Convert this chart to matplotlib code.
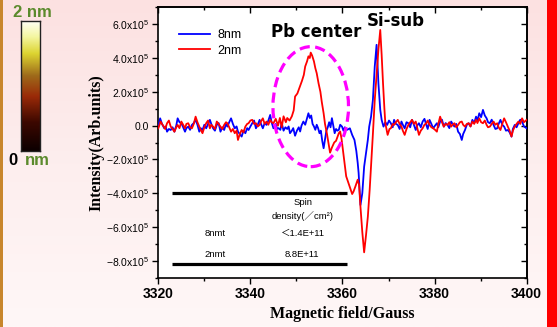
import numpy as np
import matplotlib
matplotlib.use('Agg')
import matplotlib.pyplot as plt
from matplotlib.colors import LinearSegmentedColormap
from matplotlib.patches import Ellipse, Rectangle
from matplotlib.lines import Line2D
from matplotlib.ticker import MultipleLocator, FuncFormatter, NullFormatter

plt.rcParams['mathtext.fontset'] = 'custom'
plt.rcParams['mathtext.rm'] = 'Liberation Sans'
plt.rcParams['mathtext.it'] = 'Liberation Sans'
plt.rcParams['mathtext.bf'] = 'Liberation Sans:bold'

# ---------------- data (field in Gauss, intensity in units of 1e5) ----------------
FIELD_8NM = [
    3320.0, 3320.4, 3320.8, 3321.3, 3321.6, 3321.9, 3322.3, 3322.7, 3323.1, 3323.5,
    3323.9, 3324.2, 3324.6, 3325.0, 3325.4, 3325.8, 3326.1, 3326.5, 3326.9, 3327.3,
    3327.7, 3328.1, 3328.5, 3328.9, 3329.2, 3329.6, 3330.0, 3330.4, 3330.8, 3331.2,
    3331.5, 3331.9, 3332.3, 3332.7, 3333.1, 3333.5, 3333.9, 3334.3, 3334.7, 3335.0,
    3335.4, 3335.8, 3336.2, 3336.6, 3337.0, 3337.3, 3337.7, 3338.1, 3338.5, 3338.9,
    3339.3, 3339.6, 3340.0, 3340.4, 3340.8, 3341.2, 3341.6, 3342.0, 3342.3, 3342.7,
    3343.1, 3343.5, 3343.9, 3344.3, 3344.6, 3345.0,
    3345.5, 3345.8, 3346.1, 3346.5, 3346.8, 3347.2, 3347.6, 3348.0, 3348.3, 3348.6,
    3349.0, 3349.3, 3349.7, 3350.1, 3350.5, 3350.8, 3351.1, 3351.5, 3351.9, 3352.2,
    3352.6, 3352.9, 3353.2, 3353.5, 3353.8, 3354.1, 3354.4, 3354.7, 3355.0, 3355.3,
    3355.6, 3355.9, 3356.2, 3356.5, 3356.8, 3357.1, 3357.4, 3357.7, 3358.0, 3358.3,
    3358.6, 3358.9, 3359.2, 3359.5, 3359.9, 3360.2, 3360.5, 3361.0, 3361.6, 3362.1,
    3362.6, 3363.0, 3363.3, 3363.5, 3363.9, 3364.3, 3364.7, 3365.1, 3365.5, 3365.8,
    3366.2, 3366.6, 3367.0, 3367.4, 3367.8, 3368.2, 3368.5, 3368.9, 3369.3, 3369.7,
    3370.1, 3370.5, 3370.9, 3371.2, 3371.6, 3372.0, 3372.4, 3372.8, 3373.1, 3373.5,
    3373.9, 3374.3, 3374.7, 3375.1, 3375.5, 3375.9, 3376.2, 3376.6, 3377.0, 3377.4,
    3377.8, 3378.2, 3378.5, 3378.9, 3379.3, 3379.7, 3380.1, 3380.5, 3380.8, 3381.2,
    3381.6, 3382.0, 3382.4, 3382.8, 3383.2, 3383.6, 3383.9, 3384.3, 3384.7, 3385.1,
    3385.5, 3385.9, 3386.2, 3386.6, 3387.0, 3387.4, 3387.8, 3388.2, 3388.6, 3389.0,
    3389.3, 3389.7, 3390.1, 3390.5, 3390.9, 3391.3, 3391.6, 3392.0, 3392.4, 3392.8,
    3393.2, 3393.6, 3393.9, 3394.3, 3394.7, 3395.1, 3395.5, 3395.9, 3396.3, 3396.7,
    3397.0, 3397.4, 3397.8, 3398.2, 3398.6, 3399.0, 3399.4, 3400.0,
]
INT_8NM = [
    -0.06, 0.43, 0.10, -0.16, -0.05, -0.36, -0.20, -0.26, -0.10, -0.36,
    0.00, 0.43, 0.20, 0.14, -0.10, -0.36, -0.15, -0.06, -0.25, 0.04,
    0.15, 0.34, 0.05, -0.36, -0.15, -0.26, 0.05, -0.16, 0.10, 0.34,
    0.10, -0.16, -0.30, 0.04, 0.15, -0.36, -0.10, -0.26, 0.10, -0.06,
    0.20, 0.43, 0.10, -0.16, -0.05, -0.36, -0.50, -0.65, -0.30, -0.45,
    -0.15, -0.26, -0.05, 0.14, 0.30, -0.16, 0.05, 0.34, 0.10, -0.16,
    0.15, 0.04, 0.30, 0.63, 0.20, -0.16,
    0.10, -0.20, -0.15, -0.25, 0.15, -0.30, -0.10, -0.20, -0.05, -0.45,
    -0.30, -0.15, -0.60, -0.30, -0.10, -0.35, 0.00, 0.24, 0.05, 0.35,
    0.73, 0.45, 0.60, 0.10, -0.05, -0.25, 0.05, -0.15, -0.45, -0.30,
    -0.90, -1.34, -0.80, -0.30, -0.10, 0.20, -0.10, 0.44, 0.00, -0.45,
    -0.20, -0.30, -0.25, 0.05, -0.06, -0.30, -0.10, -0.25, -0.16, -0.55,
    -0.85, -1.50, -2.20, -2.80, -4.70, -4.00, -2.43, -1.64, -0.85, -0.06,
    0.53, 1.52, 3.49, 4.78, 2.50, 0.93, 0.34, -0.06, 0.20, 0.04,
    0.30, 0.14, -0.10, 0.34, 0.10, 0.04, -0.20, 0.24, 0.05, -0.16,
    0.20, 0.14, -0.10, 0.34, 0.05, -0.26, 0.00, 0.14, -0.10, 0.24,
    0.40, 0.04, -0.20, 0.34, 0.10, -0.16, 0.00, 0.14, -0.10, 0.24,
    0.35, -0.06, 0.15, 0.04, -0.15, 0.24, 0.10, -0.06, 0.10, -0.36,
    -0.50, -0.85, -0.50, -0.26, 0.05, 0.14, -0.05, 0.34, 0.15, 0.53,
    0.30, 0.73, 0.50, 0.93, 0.60, 0.43, 0.20, 0.14, 0.35, 0.04,
    -0.20, -0.16, 0.10, 0.34, 0.05, -0.06, -0.30, -0.26, -0.40, -0.65,
    -0.20, 0.04, -0.10, 0.14, 0.35, 0.24, -0.05, -0.16,
]

FIELD_2NM = [
    3320.0, 3320.5, 3320.8, 3321.2, 3321.5, 3321.9, 3322.3, 3322.7, 3323.1, 3323.5,
    3323.9, 3324.2, 3324.6, 3325.0, 3325.4, 3325.8, 3326.1, 3326.5, 3326.9, 3327.3,
    3327.7, 3328.1, 3328.5, 3328.9, 3329.2, 3329.6, 3330.0, 3330.4, 3330.8, 3331.2,
    3331.5, 3331.9, 3332.3, 3332.7, 3333.1, 3333.5, 3333.9, 3334.3, 3334.7, 3335.0,
    3335.4, 3335.8, 3336.2, 3336.6, 3337.0, 3337.3, 3337.7, 3338.1, 3338.5, 3338.9,
    3339.3, 3339.6, 3340.0, 3340.4, 3340.8, 3341.2, 3341.6, 3342.0, 3342.3, 3342.7,
    3343.1, 3343.5, 3343.9, 3344.3, 3344.6, 3345.0,
    3345.5, 3346.0, 3346.4, 3346.8, 3347.2, 3347.7, 3348.0, 3348.5, 3349.0, 3349.4,
    3349.7, 3350.2, 3350.6, 3351.2, 3351.6, 3351.9, 3352.3, 3352.6, 3352.9, 3353.1,
    3353.4, 3353.8, 3354.1, 3354.4, 3354.8, 3355.2, 3355.5, 3355.9, 3356.2, 3356.6,
    3357.0, 3357.3, 3357.7, 3358.2, 3358.6, 3359.2, 3359.5, 3359.8, 3360.2, 3360.8,
    3361.3, 3361.7, 3362.1, 3362.4, 3362.8, 3363.3, 3363.6, 3363.9, 3364.3, 3364.7,
    3365.1, 3365.5, 3365.9, 3366.2, 3366.6, 3367.0, 3367.4, 3367.8, 3368.2, 3368.5,
    3368.8, 3369.1, 3369.3, 3369.8, 3370.2,
    3370.5, 3370.9, 3371.2, 3371.6, 3372.0, 3372.4, 3372.8, 3373.1, 3373.5, 3373.9,
    3374.3, 3374.7, 3375.1, 3375.5, 3375.9, 3376.2, 3376.6, 3377.0, 3377.4, 3377.8,
    3378.2, 3378.5, 3378.9, 3379.3, 3379.7, 3380.1, 3380.5, 3380.8, 3381.2, 3381.6,
    3382.0, 3382.4, 3382.8, 3383.2, 3383.6, 3383.9, 3384.3, 3384.7, 3385.1, 3385.5,
    3385.9, 3386.2, 3386.6, 3387.0, 3387.4, 3387.8, 3388.2, 3388.6, 3389.0, 3389.3,
    3389.7, 3390.1, 3390.5, 3390.9, 3391.3, 3391.6, 3392.0, 3392.4, 3392.8, 3393.2,
    3393.6, 3393.9, 3394.3, 3394.7, 3395.1, 3395.5, 3395.9, 3396.3, 3396.7, 3397.0,
    3397.4, 3397.8, 3398.2, 3398.6, 3399.0, 3399.4, 3400.0,
]
INT_2NM = [
    -0.16, 0.24, 0.10, -0.06, -0.20, 0.14, 0.30, -0.06, -0.20, -0.36,
    -0.10, 0.04, -0.15, 0.24, 0.05, -0.16, 0.10, 0.14, -0.10, -0.16,
    0.10, 0.53, 0.20, -0.06, -0.25, -0.45, -0.10, 0.14, 0.30, -0.16,
    0.05, -0.06, -0.20, 0.24, 0.10, -0.06, -0.20, 0.04, 0.20, 0.14,
    -0.10, -0.36, -0.20, -0.45, -0.30, -0.85, -0.50, -0.26, -0.40, -0.06,
    0.10, 0.14, 0.30, 0.34, 0.10, 0.14, -0.05, 0.04, 0.25, 0.43,
    0.10, 0.24, 0.05, 0.34, 0.20, 0.14,
    0.40, 0.00, 0.45, -0.10, 0.55, 0.20, 0.45, 0.30, 0.55, 0.90,
    1.72, 1.90, 2.20, 2.65, 3.00, 3.50, 3.80, 4.10, 4.00, 4.32,
    4.15, 3.80, 3.40, 3.10, 2.50, 2.00, 1.40, 0.73, 0.10, -0.45,
    -1.10, -1.60, -1.30, -1.00, -0.90, -0.45, -0.35, -0.80, -1.70, -3.00,
    -3.40, -3.70, -4.05, -3.90, -3.60, -3.20, -3.50, -4.80, -6.30, -7.50,
    -6.50, -5.40, -3.80, -2.40, -0.50, 1.50, 3.00, 4.50, 5.66, 4.20,
    2.50, 1.00, 0.14, -0.55, -0.20,
    -0.16, 0.10, 0.04, 0.20, 0.34, 0.10, -0.06, -0.30, -0.55, -0.20,
    0.04, 0.20, 0.34, 0.10, 0.24, -0.10, -0.55, -0.30, -0.16, 0.05,
    0.14, 0.30, 0.04, -0.10, -0.16, -0.25, -0.36, 0.10, 0.53, 0.20,
    -0.06, 0.10, 0.04, 0.20, -0.06, 0.05, 0.14, -0.10, 0.04, 0.20,
    0.24, 0.05, -0.06, 0.10, 0.14, -0.05, 0.24, 0.10, 0.34, 0.15,
    0.43, 0.20, 0.14, 0.30, 0.04, -0.10, -0.06, 0.10, 0.24, 0.05,
    0.14, -0.10, -0.26, 0.10, 0.43, 0.20, -0.06, -0.30, -0.65, -0.30,
    -0.06, 0.10, 0.24, 0.10, 0.43, 0.20, 0.34,
]
SCALE = 1e5

SERIES_LABELS = ['8nm', '2nm']
SERIES_COLORS = ['#0000ff', '#ff0000']

X_LIM = (3320, 3400)
Y_LIM = (-9e5, 7e5)

TABLE_HEADER = ['Spin', 'density(／cm²)']
TABLE_ROWS = ['8nmt', '2nmt']
TABLE_VALUES = ['＜1.4E+11', '8.8E+11']

# ---------------- figure ----------------
W, H = 557, 327
fig = plt.figure(figsize=(W / 100, H / 100), dpi=100)

# background
bg = fig.add_axes([0, 0, 1, 1], zorder=-10)
grad = np.linspace(0, 1, 256).reshape(-1, 1)
bg_cmap = LinearSegmentedColormap.from_list('bg', ['#fce1e1', '#fdeeee', '#fff7f7'])
bg.imshow(grad, aspect='auto', cmap=bg_cmap, extent=[0, W, H, 0])
bg.add_patch(Rectangle((0, 0), 3, H, color='#c8862c', lw=0))
bg.add_patch(Rectangle((547, 0), 10, H, color='#ff0000', lw=0))
bg.set_xlim(0, W)
bg.set_ylim(H, 0)
bg.axis('off')

# height colour bar
h_cmap = LinearSegmentedColormap.from_list(
    'h', [(0.0, '#0c0000'), (0.22, '#3c0800'), (0.42, '#9a2a08'),
          (0.58, '#9e6a1a'), (0.75, '#dcd430'), (0.88, '#f4f6a0'), (1.0, '#fffff6')])
cax = fig.add_axes([21.3 / W, 1 - 150.7 / H, 18.7 / W, 129.7 / H])
cax.imshow(np.linspace(1, 0, 256).reshape(-1, 1), cmap=h_cmap, aspect='auto')
cax.set_xticks([])
cax.set_yticks([])
for s in cax.spines.values():
    s.set_linewidth(1.0)
    s.set_color('#222222')

green = '#5b8a2c'
fig.text(32.5 / W, 1 - 12.5 / H, '2 nm', color=green, fontsize=12, fontweight='bold',
         family='Liberation Sans', ha='center', va='center')
fig.text(8.5 / W, 1 - 160.5 / H, '0', color='black', fontsize=12, fontweight='bold',
         family='Liberation Sans', ha='left', va='center')
fig.text(24.5 / W, 1 - 160.5 / H, 'nm', color=green, fontsize=12, fontweight='bold',
         family='Liberation Sans', ha='left', va='center')

# main axes
ax = fig.add_axes([158.3 / W, 1 - 277.7 / H, 368.4 / W, 270.4 / H])
ax.set_facecolor('white')

xb = np.array(FIELD_8NM)
yb = np.array(INT_8NM) * SCALE
xr = np.array(FIELD_2NM)
yr = np.array(INT_2NM) * SCALE
l1, = ax.plot(xb, yb, color=SERIES_COLORS[0], lw=1.3, label=SERIES_LABELS[0], zorder=3)
l2, = ax.plot(xr, yr, color=SERIES_COLORS[1], lw=1.3, label=SERIES_LABELS[1], zorder=3)

ax.set_xlim(*X_LIM)
ax.set_ylim(*Y_LIM)

ax.xaxis.set_major_locator(MultipleLocator(20))
ax.xaxis.set_minor_locator(MultipleLocator(10))
ax.yaxis.set_major_locator(MultipleLocator(2e5))
ax.yaxis.set_minor_locator(MultipleLocator(1e5))


def yfmt(v, pos):
    if abs(v) < 1:
        return '0.0'
    sign = '\u2212' if v < 0 else ''
    return f'{sign}{abs(v) / 1e5:.1f}x10$^{{5}}$'


ax.yaxis.set_major_formatter(FuncFormatter(yfmt))
ax.tick_params(which='both', direction='out', top=False, right=False, width=1.0)
ax.tick_params(which='major', length=4)
ax.tick_params(which='minor', length=2.5)
ax.tick_params(axis='x', pad=3)
ax.tick_params(axis='y', pad=3)
for lab in ax.get_xticklabels():
    lab.set_fontfamily('Liberation Sans')
    lab.set_fontweight('bold')
    lab.set_fontsize(10)
for lab in ax.get_yticklabels():
    lab.set_fontfamily('Liberation Sans')
    lab.set_fontsize(7.5)

secx = ax.secondary_xaxis('top')
secx.xaxis.set_major_locator(MultipleLocator(20))
secx.xaxis.set_minor_locator(MultipleLocator(10))
secx.xaxis.set_major_formatter(NullFormatter())
secx.tick_params(which='both', direction='in', width=1.0)
secx.tick_params(which='major', length=4)
secx.tick_params(which='minor', length=2.5)
secy = ax.secondary_yaxis('right')
secy.yaxis.set_major_locator(MultipleLocator(2e5))
secy.yaxis.set_minor_locator(MultipleLocator(1e5))
secy.yaxis.set_major_formatter(NullFormatter())
secy.tick_params(which='both', direction='in', width=1.0)
secy.tick_params(which='major', length=4)
secy.tick_params(which='minor', length=2.5)

for a in (ax, secx, secy):
    for s in a.spines.values():
        s.set_linewidth(1.2)

ax.set_xlabel('Magnetic field/Gauss', family='Liberation Serif', fontweight='bold', fontsize=11.5)
ax.set_ylabel('Intensity(Arb.units)', family='Liberation Serif', fontweight='bold', fontsize=11.5)
ax.xaxis.set_label_coords(0.5, -0.105)
ax.yaxis.set_label_coords(-0.145, 0.5)

leg = ax.legend(handles=[l1, l2], loc='upper left', bbox_to_anchor=(0.056, 0.918),
                frameon=False, borderaxespad=0, borderpad=0, handlelength=2.5,
                handletextpad=0.6, labelspacing=0.25,
                prop={'family': 'Liberation Sans', 'size': 9})

# annotations
ax.add_patch(Ellipse((3353.1, 1.12e5), 16.4, 7.1e5, fill=False, edgecolor='#ff00ff',
                     lw=2.3, linestyle=(0, (3.2, 1.7)), zorder=4))
ax.text(3354.2, 5.55e5, 'Pb center', fontsize=12, fontweight='bold', family='DejaVu Sans',
        ha='center', va='center', zorder=5)
ax.text(3371.5, 6.17e5, 'Si-sub', fontsize=12, fontweight='bold', family='DejaVu Sans',
        ha='center', va='center', zorder=5)

# spin density table
ax.hlines([-4.0e5, -8.18e5], 3322.9, 3360.9, color='black', lw=2.3, zorder=2)
tfam = ['Liberation Sans', 'Noto Sans CJK JP']
ax.text(3351.5, -4.55e5, TABLE_HEADER[0], fontsize=6.8, family=tfam, ha='center', va='center')
ax.text(3351.3, -5.34e5, TABLE_HEADER[1], fontsize=6.8, family=tfam, ha='center', va='center')
ax.text(3332.4, -6.37e5, TABLE_ROWS[0], fontsize=6.8, family=tfam, ha='center', va='center')
ax.text(3332.4, -7.60e5, TABLE_ROWS[1], fontsize=6.8, family=tfam, ha='center', va='center')
ax.text(3351.3, -6.37e5, TABLE_VALUES[0], fontsize=6.8, family=tfam, ha='center', va='center')
ax.text(3351.2, -7.60e5, TABLE_VALUES[1], fontsize=6.8, family=tfam, ha='center', va='center')

fig.savefig('out.png', dpi=100)
